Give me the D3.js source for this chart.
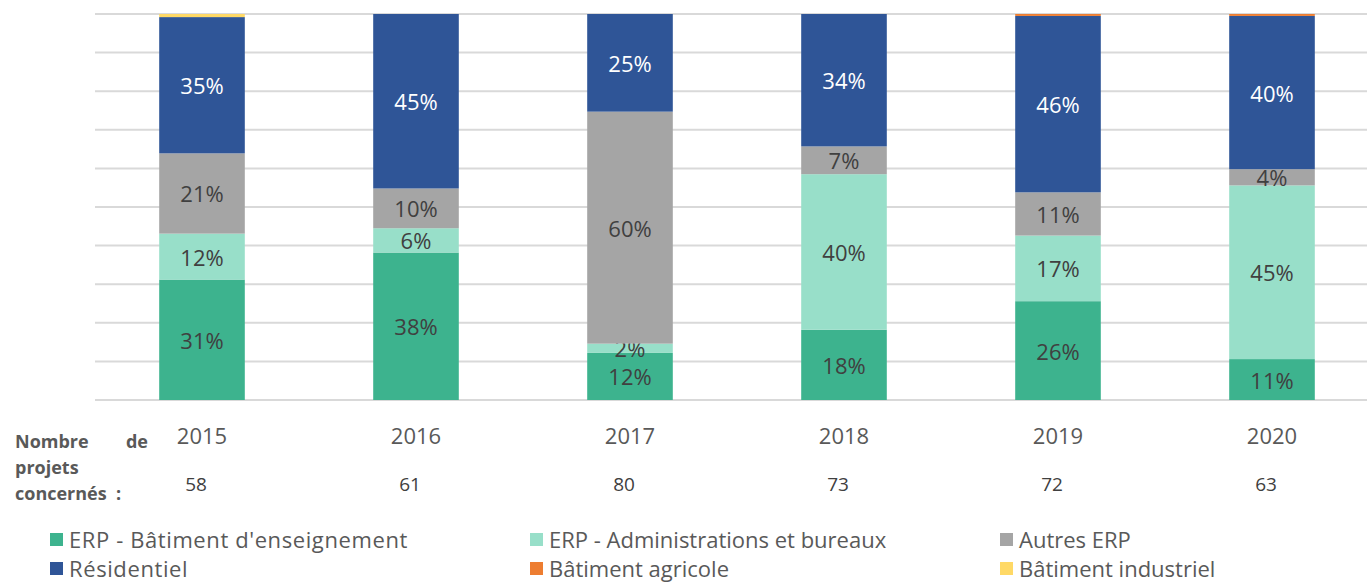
<!DOCTYPE html>
<html>
<head>
<meta charset="utf-8">
<script src="https://cdn.jsdelivr.net/npm/d3@7"></script>
<style>
  body { margin: 0; background: #fff; }
  text { font-family: "Open Sans", sans-serif; }
</style>
</head>
<body>
<div class="chart"></div>
<script>
var width = 1367;
var height = 586;

// data (share of projects, %)
var years = ["2015", "2016", "2017", "2018", "2019", "2020"];
var projets = [58, 61, 80, 73, 72, 63];
var series = ["ERP - Bâtiment d'enseignement", "ERP - Administrations et bureaux", "Autres ERP",
              "Résidentiel", "Bâtiment agricole", "Bâtiment industriel"];
var enseignement = [31.2, 38.2, 12.2, 18.2, 25.6, 10.6];
var administrations = [11.9, 6.3, 2.4, 40.3, 17.0, 45.0];
var autres = [20.8, 10.3, 60.1, 7.2, 11.2, 4.2];
var residentiel = [35.3, 45.2, 25.3, 34.3, 45.7, 39.7];
var agricole = [0, 0, 0, 0, 0.5, 0.5];
var industriel = [0.8, 0, 0, 0, 0, 0];
var yTicks = [0, 10, 20, 30, 40, 50, 60, 70, 80, 90, 100];

var colors = ["#3db38e", "#98dfc9", "#a5a5a5", "#2f5597", "#ed7d31", "#ffd966"];
var labelColors = ["#404040", "#404040", "#404040", "#ffffff", null, null];

var x = d3.scaleBand().domain(years).range([95, 1379]).paddingInner(0.6).paddingOuter(0.3);
var y = d3.scaleLinear().domain([0, 100]).range([400, 14]);

function build_table(){
    var cols = [enseignement, administrations, autres, residentiel, agricole, industriel];
    return years.map(function(yr, i){
        var row = {year: yr};
        series.forEach(function(s, j){ row[s] = cols[j][i]; });
        return row;
    });
}

function main(){
    var svg = d3.select(".chart").append("svg").attr("width", width).attr("height", height);

    // grid
    svg.append("g").selectAll("line").data(yTicks).enter().append("line")
        .attr("x1", 95).attr("x2", width)
        .attr("y1", function(d){ return y(d); }).attr("y2", function(d){ return y(d); })
        .attr("stroke", "#d9d9d9").attr("stroke-width", 2);

    var table = build_table();
    var stacked = d3.stack().keys(series)(table);

    var layers = svg.append("g").selectAll("g").data(stacked).enter().append("g")
        .attr("fill", function(d, i){ return colors[i]; });

    layers.selectAll("rect").data(function(d){ return d; }).enter().append("rect")
        .attr("x", function(d){ return x(d.data.year); })
        .attr("width", x.bandwidth())
        .attr("y", function(d){ return y(d[1]); })
        .attr("height", function(d){ return y(d[0]) - y(d[1]); });

    // labels
    layers.each(function(layer, i){
        if (!labelColors[i]) return;
        d3.select(this).selectAll("text").data(layer).enter().append("text")
            .attr("x", function(d){ return x(d.data.year) + x.bandwidth() / 2; })
            .attr("y", function(d){ return (y(d[0]) + y(d[1])) / 2 + 9; })
            .attr("text-anchor", "middle")
            .attr("font-size", 22)
            .attr("fill", labelColors[i])
            .text(function(d){ return Math.round(d[1] - d[0]) + "%"; });
    });

    // x axis
    var xAxis = d3.axisBottom(x).tickSize(0).tickPadding(28);
    var gx = svg.append("g").attr("transform", "translate(0,400)").call(xAxis);
    gx.select(".domain").remove();
    gx.selectAll("text").attr("font-size", 22).attr("fill", "#595959")
        .style("font-family", "'Open Sans', sans-serif");

    // number of projects
    svg.append("g").selectAll("text").data(projets).enter().append("text")
        .attr("x", function(d, i){ return x(years[i]) + x.bandwidth() / 2 - 6; })
        .attr("y", 491)
        .attr("text-anchor", "middle")
        .attr("font-size", 19).attr("fill", "#404040")
        .text(function(d){ return d; });

    var lab = svg.append("g").attr("font-size", 18).attr("font-weight", "bold").attr("fill", "#595959");
    lab.append("text").attr("x", 15).attr("y", 448).text("Nombre");
    lab.append("text").attr("x", 148).attr("y", 448).attr("text-anchor", "end").text("de");
    lab.append("text").attr("x", 15).attr("y", 474).text("projets");
    lab.append("text").attr("x", 15).attr("y", 500).attr("xml:space", "preserve").text("concernés  :");

    // legend
    var legX = [50, 530, 1000];
    var legend = svg.append("g").selectAll("g").data(series).enter().append("g")
        .attr("transform", function(d, i){
            return "translate(" + legX[i % 3] + "," + (i < 3 ? 540 : 569) + ")";
        });
    legend.append("rect").attr("x", 0).attr("y", -7).attr("width", 13).attr("height", 13)
        .attr("fill", function(d, i){ return colors[i]; });
    legend.append("text").attr("x", 19).attr("y", 8)
        .attr("font-size", 22).attr("fill", "#595959")
        .attr("letter-spacing", function(d, i){ return i % 3 === 0 ? 0.6 : 0; })
        .text(function(d){ return d; });
}

main();
</script>
</body>
</html>
